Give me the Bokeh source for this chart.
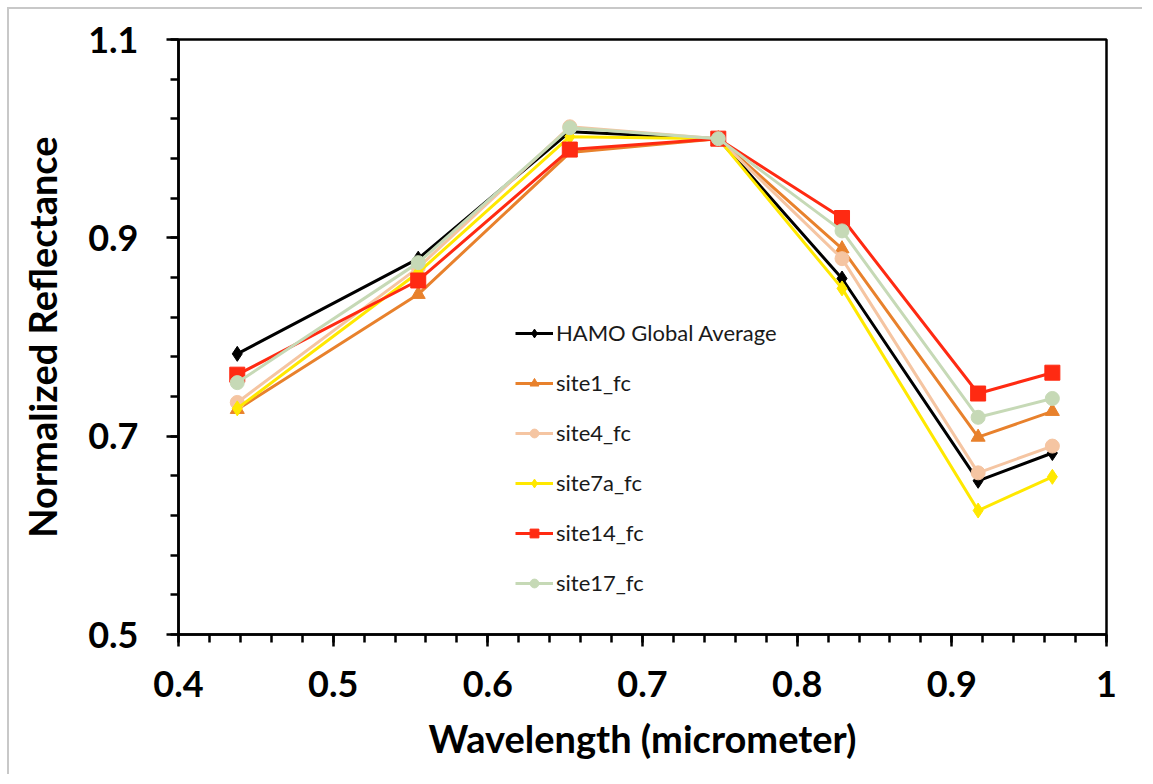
import numpy as np
from bokeh.plotting import figure
from bokeh.models import SingleIntervalTicker, FixedTicker, CustomJSTickFormatter, Legend, Range1d
from bokeh.embed import file_html
from bokeh.resources import INLINE

wavelength = [0.438, 0.555, 0.653, 0.749, 0.829, 0.917, 0.965]
hamo_avg = [0.783, 0.879, 1.007, 1.000, 0.859, 0.655, 0.683]
site1_fc = [0.727, 0.843, 0.986, 1.000, 0.889, 0.699, 0.725]
site4_fc = [0.734, 0.870, 1.012, 1.000, 0.879, 0.663, 0.690]
site7a_fc = [0.728, 0.865, 1.002, 1.000, 0.849, 0.625, 0.659]
site14_fc = [0.762, 0.857, 0.989, 1.000, 0.920, 0.743, 0.764]
site17_fc = [0.754, 0.875, 1.011, 1.000, 0.907, 0.719, 0.738]

y_major_ticks = [0.5, 0.7, 0.9, 1.1]

series = [
    ("HAMO Global Average", hamo_avg, "#000000", "diamond", 15),
    ("site1_fc", site1_fc, "#E8812C", "triangle", 14),
    ("site4_fc", site4_fc, "#F5C5A2", "circle", 14),
    ("site7a_fc", site7a_fc, "#FFE800", "diamond", 15),
    ("site14_fc", site14_fc, "#FF2A12", "square", 15),
    ("site17_fc", site17_fc, "#C6D9B6", "circle", 14),
]

FONT = "Lato"

p = figure(frame_width=928, frame_height=595, output_backend="svg", toolbar_location=None,
           x_range=Range1d(0.4, 1.0), y_range=Range1d(0.5, 1.1),
           min_border_left=169, min_border_right=36, min_border_top=30,
           min_border_bottom=140)
p.styles = {"margin-left": "7px", "margin-top": "7px",
            "border-left": "2px solid #c8c8c8", "border-top": "2px solid #c8c8c8"}
p.background_fill_color = "white"
p.border_fill_color = "white"
p.outline_line_color = "black"
p.outline_line_width = 2.5
p.xgrid.visible = False
p.ygrid.visible = False

items = []
for name, ys, color, marker, size in series:
    r1 = p.line(wavelength, ys, line_color=color, line_width=3)
    r2 = p.scatter(wavelength, ys, marker=marker, size=size, fill_color=color,
                   line_color=color)
    items.append((name, [r1, r2]))

p.xaxis.ticker = SingleIntervalTicker(interval=0.1, num_minor_ticks=5)
y_minor = [round(v, 2) for v in np.arange(0.5, 1.1001, 0.04)]
p.yaxis.ticker = FixedTicker(ticks=y_major_ticks, minor_ticks=y_minor)
fmt = "return String(Math.round(tick*10)/10);"
p.xaxis.formatter = CustomJSTickFormatter(code=fmt)
p.yaxis.formatter = CustomJSTickFormatter(code=fmt)

for ax in (p.xaxis, p.yaxis):
    ax.axis_line_width = 2.5
    ax.axis_line_color = "black"
    ax.major_tick_line_width = 2.5
    ax.minor_tick_line_width = 2.5
    ax.major_tick_in = 0
    ax.major_tick_out = 12
    ax.minor_tick_in = 0
    ax.minor_tick_out = 8
    ax.major_label_text_font = FONT
    ax.major_label_text_font_style = "bold"
    ax.major_label_text_font_size = "36px"
    ax.major_label_text_color = "black"
    ax.axis_label_text_font = FONT
    ax.axis_label_text_font_style = "bold"
    ax.axis_label_text_font_size = "38px"
    ax.axis_label_text_color = "black"

p.xaxis.axis_label = "Wavelength (micrometer)"
p.yaxis.axis_label = "Normalized Reflectance"
p.xaxis.major_label_standoff = 24
p.yaxis.major_label_standoff = 28
p.xaxis.axis_label_standoff = 15
p.yaxis.axis_label_standoff = 20

legend = Legend(items=items, location=(337, 38), border_line_color=None,
                background_fill_alpha=0, label_text_font=FONT,
                label_text_font_size="22px", label_text_color="#1a1a1a",
                glyph_width=38, glyph_height=22, label_height=22, spacing=23,
                padding=0, margin=0, label_standoff=3)
p.add_layout(legend, "center")

open("out.html", "w").write(file_html(p, INLINE))
